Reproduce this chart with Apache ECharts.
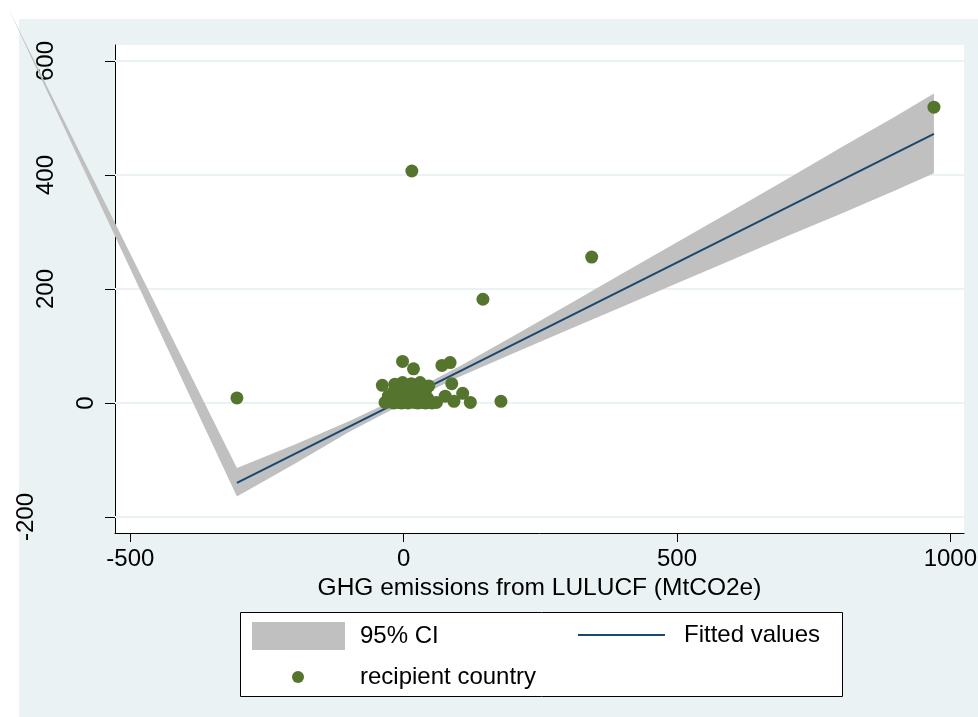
<!DOCTYPE html>
<html>
<head>
<meta charset="utf-8">
<title>ECharts</title>
<script src="https://cdn.jsdelivr.net/npm/echarts@6/dist/echarts.min.js"></script>
<style>html,body{margin:0;padding:0;background:#fff;}</style>
</head>
<body>
<div id="main" style="width:978px;height:717px;"></div>
<script type="text/javascript">
var xTicks = [-500, 0, 500, 1000];
var yTicks = [-200, 0, 200, 400, 600];

// recipient countries (LULUCF emissions, y value)
var ptsX = [-305, 15, 145, 344, 970, 178,
    -2, 18, 70, 85, -39, 88, 108, 122, 76, 92,
    -16, -2, 14, 30, 46,
    -34, -25, -18, -10, -4, 2, 8, 14, 20, 26, 33, 40, 47, 52, 60,
    -28, -20, -12, -6, 0, 5, 10, 16, 22, 28, 34, 40, 44, -8, 18, -24, 4, 36, 26, -14];
var ptsY = [9, 407, 182, 256, 519, 3,
    73, 60, 66, 71, 31, 34, 17, 1, 12, 3,
    33, 36, 34, 36, 30,
    1, 2, 0, 1, 0, 1, 0, 2, 1, 0, 1, 0, 1, 0, 1,
    12, 18, 10, 22, 14, 6, 20, 11, 25, 8, 16, 22, 8, 5, 4, 6, 27, 5, 19, 24];

// fitted values
var fitX = [-305, 970];
var fitY = [-140, 472];

// 95% CI band
var ciX  = [-305, -200, -100, 0, 100, 200, 300, 400, 500, 600, 700, 800, 900, 970];
var ciUp = [-114, -73, -32, 13, 63, 117, 172, 227, 282, 337, 392, 448, 503, 543];
var ciLo = [-164, -107, -51, -1, 45, 87, 128, 169, 210, 251, 292, 332, 373, 403];
// stray vertex the band polygon runs through (off the plot, top left)
var ciStray = [-722, 690];

var FONT = 'Liberation Sans, Arial, sans-serif';
var bgColor = 'rgb(234,242,243)';

var scatterData = ptsX.map(function (x, i) { return [x, ptsY[i]]; });
var fitData = fitX.map(function (x, i) { return [x, fitY[i]]; });

var myChart = echarts.init(document.getElementById('main'));

myChart.setOption({
    animation: false,
    graphic: [
        {type: 'rect', z: -10, silent: true,
         shape: {x: 19, y: 19, width: 959, height: 698},
         style: {fill: bgColor}},
        {type: 'rect', z: 3, silent: true,
         shape: {x: 240.5, y: 612.5, width: 602, height: 84},
         style: {fill: '#fff', stroke: '#000', lineWidth: 1}}
    ],
    grid: {
        left: 115, right: 14, top: 45, bottom: 184,
        show: true, backgroundColor: '#fff', borderWidth: 0,
        containLabel: false, outerBoundsMode: 'none'
    },
    legend: [
        {data: [{name: '95% CI', icon: 'rect'}], left: 252, top: 622, padding: 0,
         itemWidth: 93, itemHeight: 28, selectedMode: false, z: 5,
         textStyle: {fontSize: 24, color: '#000', fontFamily: FONT, padding: [0, 0, 0, 10]}},
        {data: [{name: 'Fitted values', icon: 'rect'}], left: 578, top: 623, padding: 0,
         itemWidth: 87, itemHeight: 2, selectedMode: false, z: 5,
         textStyle: {fontSize: 24, color: '#000', fontFamily: FONT, padding: [0, 0, 0, 14]}},
        {data: [{name: 'recipient country', icon: 'circle'}], left: 292, top: 665, padding: 0,
         itemWidth: 12, itemHeight: 12, selectedMode: false, z: 5,
         textStyle: {fontSize: 24, color: '#000', fontFamily: FONT, padding: [0, 0, 0, 51]}}
    ],
    xAxis: {
        type: 'value', min: -528, max: 1025,
        axisLine: {show: true, onZero: false, lineStyle: {color: '#000', width: 1}},
        axisTick: {show: true, length: 9, customValues: xTicks, lineStyle: {color: '#000'}},
        axisLabel: {customValues: xTicks, fontSize: 24, color: '#000', fontFamily: FONT, margin: 14,
            formatter: function (v) { return String(v); }},
        splitLine: {show: false},
        name: 'GHG emissions from LULUCF (MtCO2e)',
        nameLocation: 'middle', nameGap: 41,
        nameTextStyle: {fontSize: 24.5, color: '#000', fontFamily: FONT}
    },
    yAxis: {
        type: 'value', min: -228, max: 628,
        axisLine: {show: true, onZero: false, lineStyle: {color: '#000', width: 1}},
        axisTick: {show: true, length: 10, customValues: yTicks, lineStyle: {color: '#000'}},
        axisLabel: {
            customValues: yTicks, rotate: 90, margin: 17,
            fontSize: 24, color: '#000', fontFamily: FONT,
            formatter: function (v) {
                var k = v === 0 ? 'a' : (v < 0 ? 'c' : 'b');
                return '{' + k + '|' + v + '}';
            },
            rich: {
                a: {fontSize: 24, color: '#000', fontFamily: FONT},
                b: {fontSize: 24, color: '#000', fontFamily: FONT, padding: [0, 0, 40, 0]},
                c: {fontSize: 24, color: '#000', fontFamily: FONT, padding: [0, 0, 60, 0]}
            }
        },
        splitLine: {show: false}
    },
    series: [
        {
            // horizontal grid lines
            type: 'line', data: [], z: 1, silent: true,
            markLine: {
                z: 1, silent: true, symbol: 'none', label: {show: false},
                lineStyle: {color: bgColor, width: 2, type: 'solid'},
                data: yTicks.map(function (v) { return {yAxis: v}; })
            }
        },
        {
            name: '95% CI', type: 'custom', z: 2, clip: false,
            itemStyle: {color: '#c0c0c0'},
            data: [[0, 0]],
            renderItem: function (params, api) {
                var pts = [], i;
                for (i = ciX.length - 1; i >= 0; i--) pts.push(api.coord([ciX[i], ciUp[i]]));
                pts.push(api.coord(ciStray));
                for (i = 0; i < ciX.length; i++) pts.push(api.coord([ciX[i], ciLo[i]]));
                return {type: 'polygon', shape: {points: pts}, style: {fill: '#c0c0c0'}};
            }
        },
        {
            name: 'Fitted values', type: 'line', z: 3, symbol: 'none',
            data: fitData,
            lineStyle: {color: '#1a476f', width: 2},
            itemStyle: {color: '#1a476f'}
        },
        {
            name: 'recipient country', type: 'scatter', z: 4,
            symbolSize: 13,
            itemStyle: {color: '#55752f', opacity: 1},
            data: scatterData
        }
    ]
});
</script>
</body>
</html>
